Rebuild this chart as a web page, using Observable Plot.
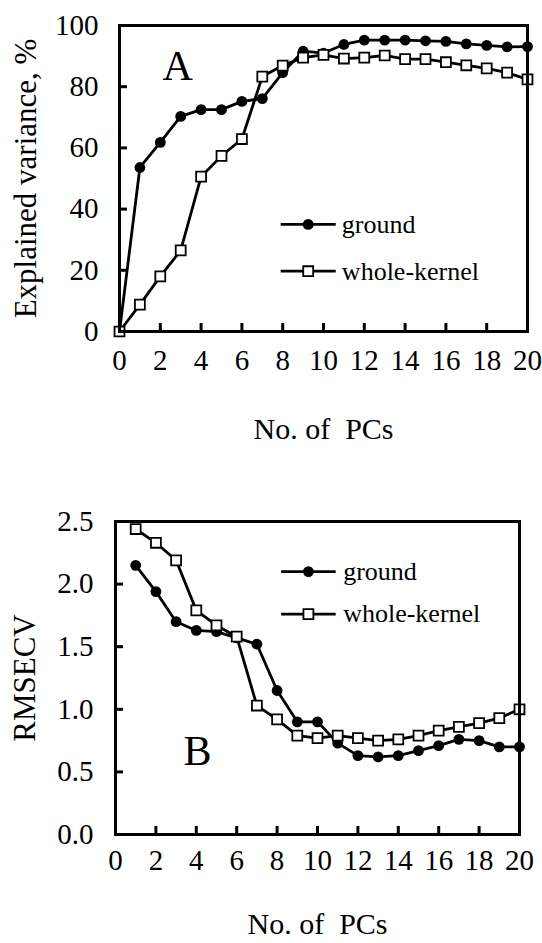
<!DOCTYPE html>
<html><head><meta charset="utf-8">
<script src="https://cdn.jsdelivr.net/npm/d3@7"></script>
<script src="https://cdn.jsdelivr.net/npm/@observablehq/plot@0.6"></script>
<style>
html,body{margin:0;padding:0;background:#fff;}
#chart{width:542px;}
#chart svg{display:block;}
#chart svg, #chart svg text, #chart svg g { font-family: "Liberation Serif", "Times New Roman", Times, serif !important; }
</style></head><body><div id="chart"></div>
<script>
// ---- data ----
const seriesNames = ["ground", "whole-kernel"];
const pcsA = [0,1,2,3,4,5,6,7,8,9,10,11,12,13,14,15,16,17,18,19,20];
const groundA = [0,53.6,61.8,70.3,72.5,72.5,75.2,76.1,84.6,91.6,91.0,93.8,95.2,95.2,95.2,95.0,94.8,94.0,93.5,93.0,93.1];
const wholeA  = [0,8.8,18.0,26.5,50.6,57.4,62.9,83.3,86.9,89.5,90.4,89.2,89.5,90.2,89.0,89.0,88.0,87.0,86.0,84.6,82.4];
const pcsB = [1,2,3,4,5,6,7,8,9,10,11,12,13,14,15,16,17,18,19,20];
const groundB = [2.15,1.94,1.70,1.63,1.62,1.57,1.52,1.15,0.90,0.90,0.73,0.63,0.62,0.63,0.67,0.71,0.76,0.75,0.70,0.70];
const wholeB  = [2.44,2.33,2.19,1.79,1.67,1.58,1.03,0.92,0.79,0.77,0.79,0.77,0.75,0.76,0.79,0.83,0.86,0.89,0.93,1.00];
const xTicks = [0,2,4,6,8,10,12,14,16,18,20];
const xInnerTicks = [2,4,6,8,10,12,14,16,18];
const yTicksA = [0,20,40,60,80,100];
const yInnerTicksA = [20,40,60,80];
const yTicksB = [0,0.5,1.0,1.5,2.0,2.5];
const yInnerTicksB = [0.5,1.0,1.5,2.0];
const xTitle = "No.\u00a0of\u00a0\u00a0PCs";
const legendA = {x1: 7.9, xm: 9.25, x2: 10.6, xt: 10.9, y: [35, 19.7]};
const legendB = {x1: 8.2, xm: 9.55, x2: 10.9, xt: 11.27, y: [2.10, 1.76]};

const FONT = "Liberation Serif";

function panel(o) {
  const d1 = o.xs.map((x, i) => ({x, y: o.g[i]}));
  const d2 = o.xs.map((x, i) => ({x, y: o.w[i]}));
  const L = o.leg;
  const legLines = seriesNames.map((s, i) => ({s, x1: L.x1, x2: L.x2, xm: L.xm, xt: L.xt, y: L.y[i]}));
  return Plot.plot({
    width: 542, height: o.height,
    marginTop: o.mt, marginBottom: o.mb, marginLeft: o.ml, marginRight: o.mr,
    style: {fontFamily: FONT, fontSize: "29px", color: "#000", background: "#fff"},
    x: {domain: [0, 20]},
    y: {domain: o.yDomain},
    marks: [
      Plot.axisX(xTicks, {tickSize: 0, tickPadding: o.xPad, fontSize: 29, fontFamily: FONT, label: null}),
      Plot.axisX([], {tickSize: 0, fontSize: 30, fontFamily: FONT, label: xTitle, labelAnchor: "center", labelOffset: o.xLabOff, labelArrow: "none"}),
      Plot.axisX(xInnerTicks, {tickSize: 8, dy: -8, tickFormat: () => "", label: null, strokeWidth: 3}),
      Plot.axisY(o.yTicks, {tickSize: 0, tickPadding: o.yPad, fontSize: 29, fontFamily: FONT, tickFormat: o.yFmt, label: null}),
      Plot.axisY([], {tickSize: 0, fontSize: 31, fontFamily: FONT, label: o.yLabel, labelAnchor: "center", labelOffset: o.yLabOff, labelArrow: "none"}),
      Plot.axisY(o.yInner, {tickSize: 8, dx: 8, tickFormat: () => "", label: null, strokeWidth: 3}),
      Plot.line(d2, {x: "x", y: "y", stroke: "#000", strokeWidth: 2.8}),
      Plot.line(d1, {x: "x", y: "y", stroke: "#000", strokeWidth: 2.8}),
      Plot.dot(d1, {x: "x", y: "y", r: 5.4, fill: "#000", stroke: "none"}),
      Plot.dot(d2, {x: "x", y: "y", symbol: "square", r: 5.6, fill: "#fff", stroke: "#000", strokeWidth: 1.8}),
      Plot.link(legLines, {x1: "x1", x2: "x2", y1: "y", y2: "y", stroke: "#000", strokeWidth: 2.8}),
      Plot.dot(legLines.slice(0, 1), {x: "xm", y: "y", r: 5.4, fill: "#000", stroke: "none"}),
      Plot.dot(legLines.slice(1), {x: "xm", y: "y", symbol: "square", r: 5.6, fill: "#fff", stroke: "#000", strokeWidth: 1.8}),
      Plot.text(legLines, {x: "xt", y: "y", text: "s", textAnchor: "start", lineAnchor: "middle", fontSize: 26, fontFamily: FONT, fill: "#000"}),
      Plot.text([o.letter], {frameAnchor: "top-left", dx: o.ldx, dy: o.ldy, text: d => d, textAnchor: "start", lineAnchor: "top", fontSize: 42, fontFamily: FONT, fill: "#000"}),
      Plot.frame({stroke: "#000", strokeWidth: 3})
    ]
  });
}

const chart = document.getElementById("chart");
chart.append(panel({
  xs: pcsA, g: groundA, w: wholeA, leg: legendA,
  height: 448, mt: 25, mb: 117, ml: 119, mr: 15,
  yDomain: [0, 100], yTicks: yTicksA, yInner: yInnerTicksA, yFmt: d => String(d),
  yLabel: "Explained variance, %", yPad: 21, yLabOff: 106, xPad: 18, xLabOff: 107,
  letter: "A", ldx: 43, ldy: 25
}));
chart.append(panel({
  xs: pcsB, g: groundB, w: wholeB, leg: legendB,
  height: 495, mt: 73, mb: 109, ml: 115, mr: 23,
  yDomain: [0, 2.5], yTicks: yTicksB, yInner: yInnerTicksB, yFmt: d => d.toFixed(1),
  yLabel: "RMSECV", yPad: 22, yLabOff: 103, xPad: 15, xLabOff: 99,
  letter: "B", ldx: 68, ldy: 214
}));
</script>
</body></html>
